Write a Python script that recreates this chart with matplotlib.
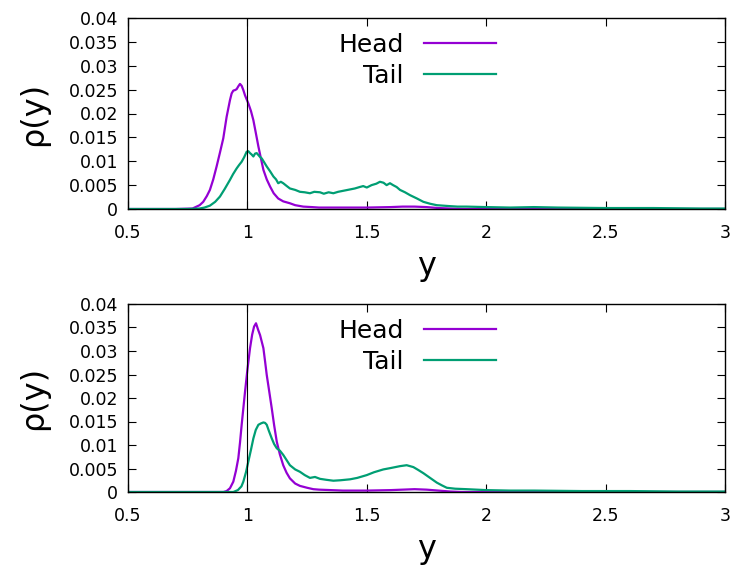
import numpy as np
import matplotlib
matplotlib.use("Agg")
import matplotlib.pyplot as plt
from matplotlib.ticker import FuncFormatter

# panel 1 (top)
head1_x = [0.5, 0.7, 0.77, 0.8, 0.815, 0.83, 0.843, 0.857, 0.871, 0.885,
           0.899, 0.913, 0.927, 0.934, 0.941, 0.948, 0.955, 0.962, 0.969, 0.976,
           0.983, 0.99, 1.004, 1.015, 1.025, 1.035, 1.046, 1.057, 1.067, 1.081,
           1.095, 1.11, 1.129, 1.15, 1.178, 1.2, 1.234, 1.27, 1.3, 1.4,
           1.5, 1.6, 1.65, 1.7, 1.75, 1.8, 1.85, 1.9, 2.0, 2.5, 3.0]
head1_y = [0, 0, 0.0001, 0.0008, 0.0015, 0.0027, 0.004, 0.0062, 0.0089, 0.0118,
           0.0148, 0.0193, 0.0228, 0.0242, 0.0248, 0.0249, 0.0251, 0.0257, 0.0262, 0.0258,
           0.0249, 0.0238, 0.0221, 0.0205, 0.0186, 0.016, 0.0131, 0.0105, 0.0082, 0.0062,
           0.0047, 0.0033, 0.0022, 0.0016, 0.0012, 0.0008, 0.0005, 0.0004, 0.0003, 0.0003,
           0.0003, 0.0004, 0.0005, 0.0005, 0.0004, 0.0002, 0.0001, 0, 0, 0, 0]

tail1_x = [0.5, 0.75, 0.8, 0.82, 0.843, 0.865, 0.885, 0.905, 0.927, 0.94,
           0.955, 0.965, 0.976, 0.986, 0.997, 1.004, 1.011, 1.018, 1.025, 1.032,
           1.039, 1.046, 1.053, 1.06, 1.07, 1.081, 1.095, 1.109, 1.12, 1.129,
           1.14, 1.15, 1.165, 1.178, 1.2, 1.22, 1.24, 1.262, 1.28, 1.304,
           1.32, 1.34, 1.36, 1.38, 1.4, 1.43, 1.45, 1.47, 1.485, 1.5,
           1.52, 1.54, 1.555, 1.57, 1.583, 1.597, 1.61, 1.625, 1.639, 1.66,
           1.681, 1.71, 1.737, 1.765, 1.793, 1.82, 1.848, 1.88, 1.918, 2.0,
           2.1, 2.2, 2.3, 2.5, 2.7, 2.9, 3.0]
tail1_y = [0, 0, 0.0001, 0.0003, 0.0007, 0.0015, 0.0026, 0.0042, 0.0061, 0.0073,
           0.0085, 0.0092, 0.0099, 0.0108, 0.012, 0.0121, 0.0117, 0.0114, 0.011, 0.0116,
           0.0117, 0.0113, 0.0109, 0.0106, 0.0098, 0.0089, 0.0079, 0.0068, 0.0062, 0.0054,
           0.0057, 0.0054, 0.0048, 0.0043, 0.004, 0.0036, 0.0035, 0.0033, 0.0036, 0.0035,
           0.0032, 0.0035, 0.0033, 0.0036, 0.0038, 0.0041, 0.0043, 0.0046, 0.0048, 0.0045,
           0.005, 0.0053, 0.0057, 0.0055, 0.005, 0.0054, 0.005, 0.0046, 0.004, 0.0035,
           0.0029, 0.0022, 0.0015, 0.0011, 0.0008, 0.0007, 0.0006, 0.0005, 0.0005, 0.0004,
           0.0003, 0.0004, 0.0003, 0.0002, 0.0002, 0.0001, 0.0001]

# panel 2 (bottom)
head2_x = [0.5, 0.85, 0.9, 0.913, 0.927, 0.941, 0.952, 0.962, 0.969, 0.976,
           0.983, 0.99, 1.0, 1.011, 1.02, 1.028, 1.036, 1.045, 1.053, 1.06,
           1.067, 1.074, 1.081, 1.092, 1.102, 1.112, 1.123, 1.136, 1.15, 1.164,
           1.178, 1.2, 1.22, 1.25, 1.276, 1.3, 1.4, 1.5, 1.6, 1.7,
           1.75, 1.8, 1.85, 1.9, 2.0, 2.5, 3.0]
head2_y = [0, 0, 0, 0.0002, 0.0008, 0.0022, 0.0045, 0.0072, 0.0105, 0.0143,
           0.0178, 0.0213, 0.026, 0.0306, 0.0335, 0.0352, 0.0359, 0.0345, 0.0334, 0.032,
           0.0306, 0.0278, 0.0249, 0.0212, 0.0178, 0.0142, 0.0107, 0.008, 0.0057, 0.0041,
           0.0029, 0.0018, 0.0013, 0.0009, 0.0006, 0.0005, 0.0003, 0.0003, 0.0004, 0.0006,
           0.0005, 0.0003, 0.0001, 0, 0, 0, 0]

tail2_x = [0.5, 0.9, 0.941, 0.96, 0.975, 0.983, 0.994, 1.004, 1.015, 1.025,
           1.035, 1.046, 1.057, 1.067, 1.074, 1.081, 1.09, 1.102, 1.112, 1.123,
           1.136, 1.15, 1.164, 1.178, 1.2, 1.22, 1.24, 1.262, 1.283, 1.304,
           1.33, 1.36, 1.39, 1.43, 1.46, 1.5, 1.53, 1.569, 1.6, 1.639,
           1.667, 1.695, 1.715, 1.737, 1.765, 1.793, 1.815, 1.835, 1.87, 1.918,
           2.0, 2.1, 2.2, 2.4, 2.6, 2.8, 3.0]
tail2_y = [0, 0, 0, 0.0004, 0.0012, 0.0022, 0.0042, 0.0065, 0.009, 0.0114,
           0.0132, 0.0143, 0.0146, 0.0148, 0.0147, 0.0143, 0.013, 0.0114, 0.0102, 0.0093,
           0.0088, 0.0079, 0.0068, 0.0057, 0.0048, 0.0043, 0.0036, 0.003, 0.0032, 0.0028,
           0.0026, 0.0024, 0.0025, 0.0027, 0.003, 0.0036, 0.0042, 0.0048, 0.0051, 0.0055,
           0.0057, 0.0053, 0.0047, 0.004, 0.003, 0.002, 0.0014, 0.0009, 0.0007, 0.0006,
           0.0004, 0.0003, 0.0003, 0.0002, 0.0002, 0.0001, 0.0001]

x_ticks = [0.5, 1, 1.5, 2, 2.5, 3]
y_ticks = [0, 0.005, 0.01, 0.015, 0.02, 0.025, 0.03, 0.035, 0.04]
VIOLET, GREEN = "#9400d3", "#009e73"

plt.rcParams["font.family"] = "DejaVu Sans"
fig = plt.figure(figsize=(7.35, 5.65), dpi=100)
ax1 = fig.add_axes([128 / 735, 1 - 209 / 565, 597 / 735, 191 / 565])
ax2 = fig.add_axes([128 / 735, 1 - 492 / 565, 597 / 735, 188 / 565])

fmt = FuncFormatter(lambda v, pos: f"{v:g}")
for ax, hx, hy, tx, ty in ((ax1, head1_x, head1_y, tail1_x, tail1_y),
                           (ax2, head2_x, head2_y, tail2_x, tail2_y)):
    ax.plot(hx, hy, color=VIOLET, lw=1.6, label="Head")
    ax.plot(tx, ty, color=GREEN, lw=1.6, label="Tail")
    ax.axvline(1, color="black", lw=0.8)
    ax.set_xlim(0.5, 3)
    ax.set_ylim(0, 0.04)
    ax.set_xticks(x_ticks)
    ax.set_yticks(y_ticks)
    ax.xaxis.set_major_formatter(fmt)
    ax.yaxis.set_major_formatter(fmt)
    ax.tick_params(direction="in", top=True, right=True, length=6, width=0.8,
                   labelsize=12.5)
    ax.tick_params(axis="x", pad=11)
    ax.tick_params(axis="y", pad=7)
    for s in ax.spines.values():
        s.set_linewidth(1.0)
    ax.set_xlabel("y", fontsize=23, labelpad=6)
    ax.set_ylabel("ρ(y)", fontsize=23, labelpad=14)
    ax.legend(loc="upper right", bbox_to_anchor=(0.638, 0.987), frameon=False,
              markerfirst=False, fontsize=18, handlelength=2.9, handletextpad=0.8,
              labelspacing=0.28, borderpad=0.0)

fig.savefig("out.png", dpi=100)
